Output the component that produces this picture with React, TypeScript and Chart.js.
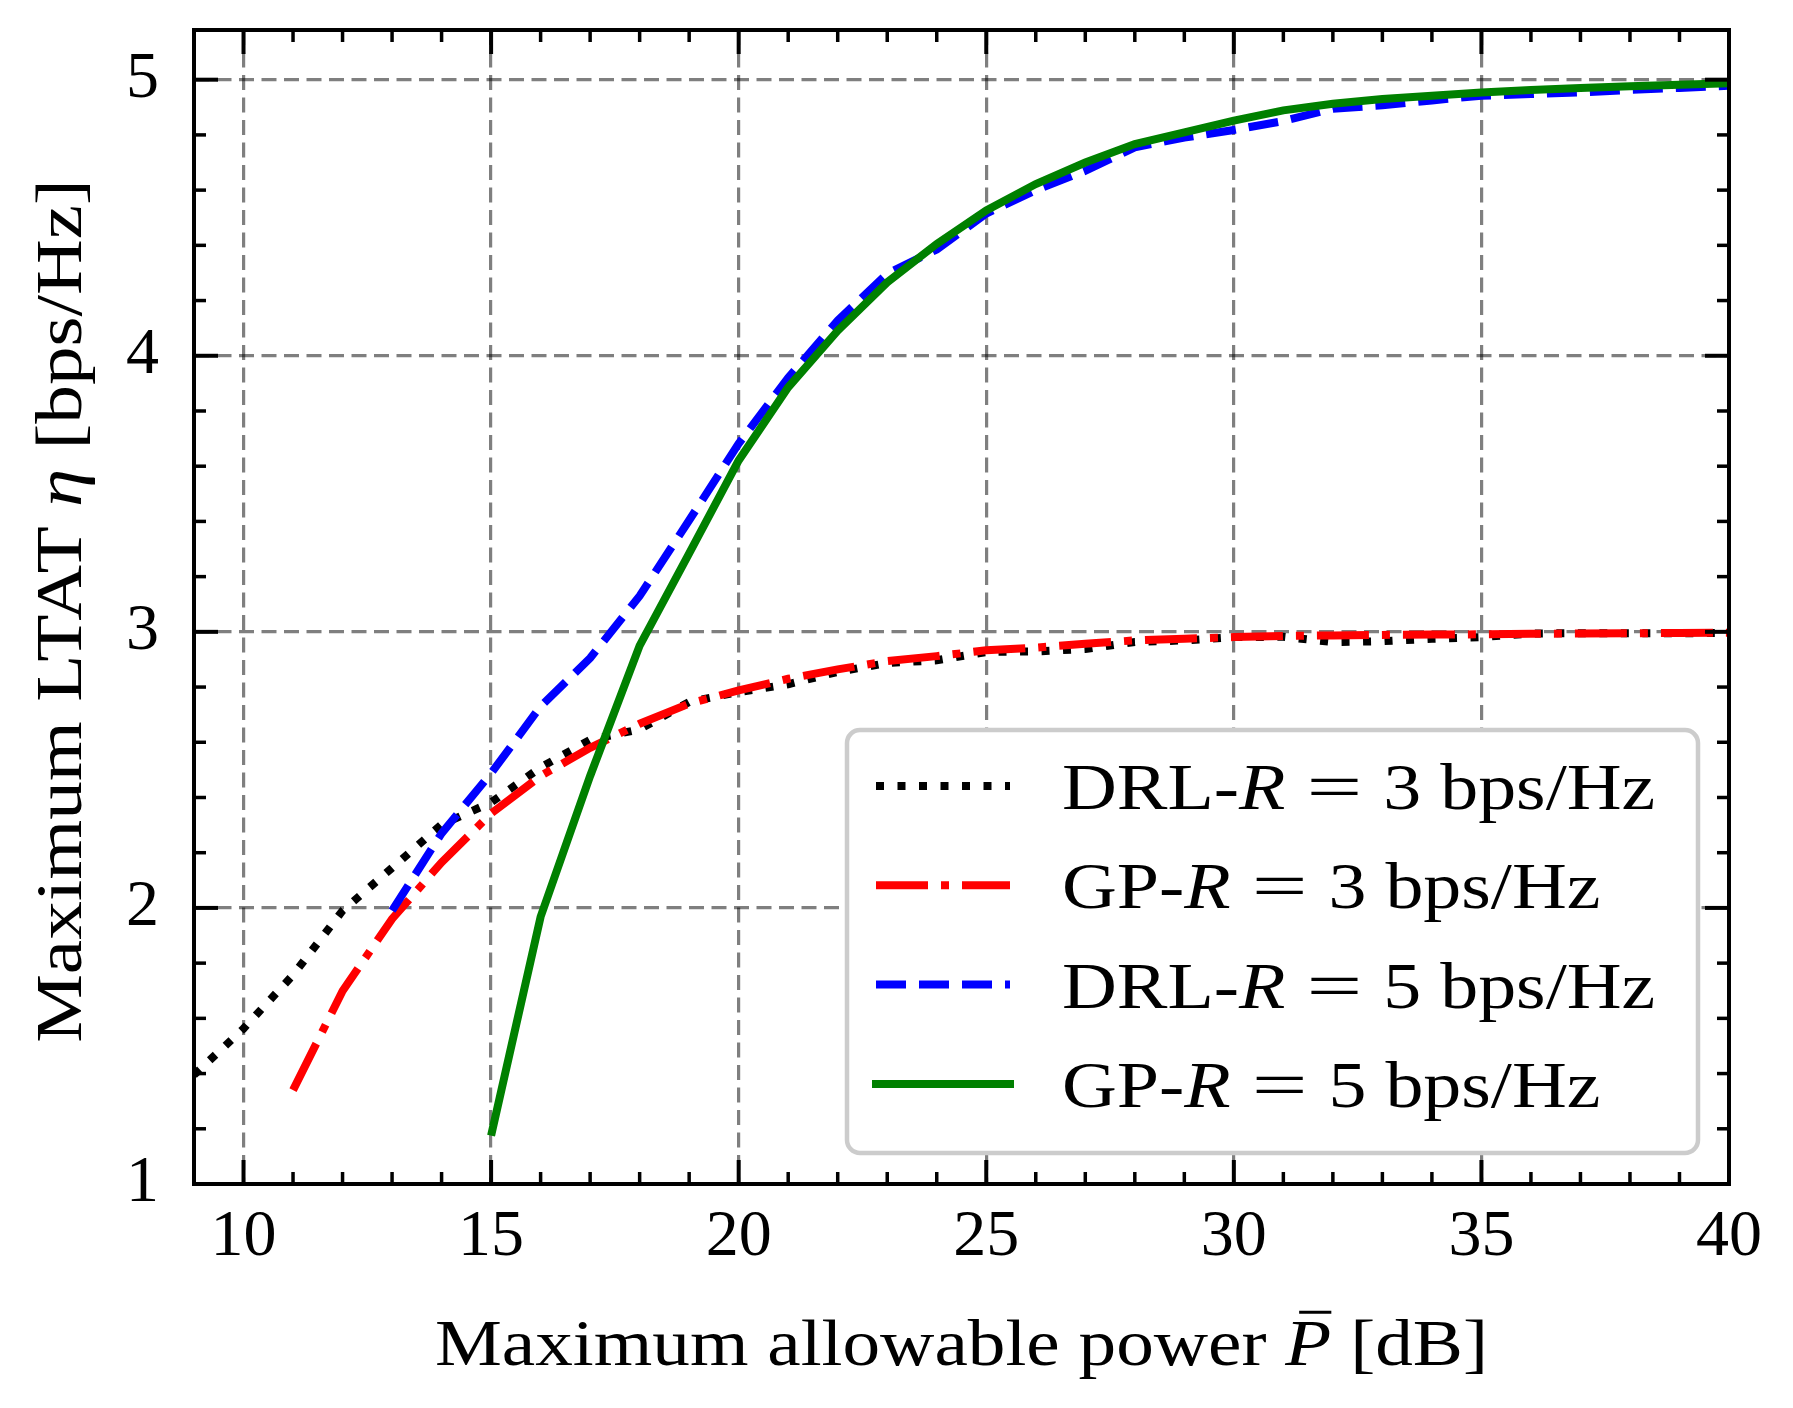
import React, { useEffect, useRef } from 'react';
import { Chart, registerables } from 'chart.js';

Chart.register(...registerables);

// ---------- data ----------
const DRL3_X = [9, 10, 11, 12, 13, 14, 15, 16, 17, 18, 19, 20, 21, 22, 23, 24, 25, 26, 27, 28, 29, 30, 31, 32, 33, 34, 35, 36, 37, 38, 39, 40];
const DRL3_Y = [1.395, 1.563, 1.757, 1.99, 2.145, 2.302, 2.382, 2.509, 2.609, 2.647, 2.746, 2.782, 2.81, 2.855, 2.887, 2.897, 2.927, 2.929, 2.938, 2.963, 2.969, 2.981, 2.982, 2.963, 2.966, 2.975, 2.981, 2.994, 2.995, 2.995, 2.995, 2.996];

const GP3_X = [11, 12, 13, 14, 15, 16, 17, 18, 19, 20, 21, 22, 23, 24, 25, 26, 27, 28, 29, 30, 31, 32, 33, 34, 35, 36, 37, 38, 39, 40];
const GP3_Y = [1.34, 1.699, 1.96, 2.165, 2.342, 2.478, 2.58, 2.667, 2.74, 2.788, 2.83, 2.864, 2.894, 2.912, 2.933, 2.943, 2.957, 2.969, 2.975, 2.981, 2.985, 2.987, 2.989, 2.99, 2.991, 2.993, 2.994, 2.995, 2.996, 2.997];

const DRL5_X = [13, 14, 15, 16, 17, 18, 19, 20, 21, 22, 23, 24, 25, 26, 27, 28, 29, 30, 31, 32, 33, 34, 35, 36, 37, 38, 39, 40];
const DRL5_Y = [1.99, 2.27, 2.488, 2.73, 2.905, 3.13, 3.404, 3.682, 3.92, 4.128, 4.297, 4.385, 4.515, 4.6, 4.67, 4.755, 4.79, 4.818, 4.85, 4.895, 4.907, 4.925, 4.942, 4.948, 4.954, 4.963, 4.97, 4.978];

const GP5_X = [15, 16, 17, 18, 19, 20, 21, 22, 23, 24, 25, 26, 27, 28, 29, 30, 31, 32, 33, 34, 35, 36, 37, 38, 39, 40];
const GP5_Y = [1.175, 1.968, 2.478, 2.95, 3.284, 3.621, 3.886, 4.091, 4.266, 4.405, 4.526, 4.622, 4.7, 4.767, 4.809, 4.852, 4.889, 4.913, 4.93, 4.942, 4.954, 4.963, 4.97, 4.976, 4.982, 4.987];

const X_TICKS = [10, 15, 20, 25, 30, 35, 40];
const Y_TICKS = [1, 2, 3, 4, 5];
const X_MINOR_STEP = 1;
const Y_MINOR_STEP = 0.2;
const X_MIN = 9;
const X_MAX = 40;
const Y_MIN = 1;
const Y_MAX = 5.18;

const LEGEND_PREFIX = ['DRL-', 'GP-', 'DRL-', 'GP-'];
const LEGEND_RATE = ['3', '3', '5', '5'];

const X_TITLE = [
  { t: 'Maximum allowable power ' },
  { t: 'P', it: true, bar: true },
  { t: ' [dB]' },
];
const Y_TITLE = [
  { t: 'Maximum LTAT ' },
  { t: '\u03B7', it: true },
  { t: ' [bps/Hz]' },
];

// ---------- style ----------
const W = 1793;
const H = 1408;
const FONT = "'Liberation Serif', 'Times New Roman', serif";
const FS = 66;
const AREA = { left: 194, right: 1729, top: 30, bottom: 1184 };

type Seg = { t?: string; it?: boolean; bar?: boolean; gap?: number; sx?: number };

function segWidth(ctx: CanvasRenderingContext2D, s: Seg, size: number, sx: number) {
  if (s.gap) return s.gap;
  ctx.font = `${s.it ? 'italic ' : ''}${size}px ${FONT}`;
  return ctx.measureText(s.t || '').width * (s.sx || sx);
}

function drawRich(ctx: CanvasRenderingContext2D, segs: Seg[], x: number, y: number, size: number, align: 'left' | 'center', sx: number) {
  let total = 0;
  for (const s of segs) total += segWidth(ctx, s, size, sx);
  let cx = align === 'center' ? x - total / 2 : x;
  ctx.textAlign = 'left';
  ctx.textBaseline = 'alphabetic';
  ctx.fillStyle = '#000';
  for (const s of segs) {
    const w = segWidth(ctx, s, size, sx);
    if (!s.gap) {
      ctx.font = `${s.it ? 'italic ' : ''}${size}px ${FONT}`;
      ctx.save();
      ctx.translate(cx, y);
      ctx.scale(s.sx || sx, 1);
      ctx.fillText(s.t || '', 0, 0);
      ctx.restore();
      if (s.bar) {
        ctx.save();
        ctx.strokeStyle = '#000';
        ctx.lineWidth = 3;
        ctx.beginPath();
        ctx.moveTo(cx + w * 0.3, y - size * 0.8);
        ctx.lineTo(cx + w * 1.0, y - size * 0.8);
        ctx.stroke();
        ctx.restore();
      }
    }
    cx += w;
  }
}

const decorPlugin = {
  id: 'decor',
  afterDatasetsDraw(chart: any) {
    const ctx: CanvasRenderingContext2D = chart.ctx;
    const { left, right, top, bottom } = chart.chartArea;
    const xs = chart.scales.x;
    const ys = chart.scales.y;
    ctx.save();
    // spines
    ctx.strokeStyle = '#000';
    ctx.lineWidth = 4;
    ctx.setLineDash([]);
    ctx.strokeRect(left, top, right - left, bottom - top);
    // ticks (inward on all four sides)
    const tick = (x1: number, y1: number, x2: number, y2: number, w: number) => {
      ctx.lineWidth = w;
      ctx.beginPath();
      ctx.moveTo(x1, y1);
      ctx.lineTo(x2, y2);
      ctx.stroke();
    };
    for (let v = X_MIN; v <= X_MAX + 1e-9; v += X_MINOR_STEP) {
      const major = X_TICKS.some((t) => Math.abs(t - v) < 1e-9);
      const len = major ? 24 : 12;
      const px = xs.getPixelForValue(v);
      tick(px, bottom, px, bottom - len, major ? 4 : 3.5);
      tick(px, top, px, top + len, major ? 4 : 3.5);
    }
    for (let k = 0; Y_MIN + k * Y_MINOR_STEP <= Y_MAX + 1e-9; k++) {
      const v = Y_MIN + k * Y_MINOR_STEP;
      const major = Y_TICKS.some((t) => Math.abs(t - v) < 1e-9);
      const len = major ? 24 : 12;
      const py = ys.getPixelForValue(v);
      tick(left, py, left + len, py, major ? 4 : 3.5);
      tick(right, py, right - len, py, major ? 4 : 3.5);
    }

    // legend
    const bx = 847, by = 730, bw = 1698 - 847, bh = 1153 - 730;
    ctx.beginPath();
    (ctx as any).roundRect(bx, by, bw, bh, 13);
    ctx.fillStyle = '#ffffff';
    ctx.fill();
    ctx.strokeStyle = '#cccccc';
    ctx.lineWidth = 4.5;
    ctx.stroke();

    const dsList = chart.data.datasets;
    for (let i = 0; i < 4; i++) {
      const ds = dsList[i];
      const ry = 786 + i * 99.3;
      ctx.save();
      ctx.strokeStyle = ds.borderColor;
      ctx.lineWidth = ds.borderWidth;
      const dash = ds.borderDash || [];
      ctx.setLineDash(dash);
      ctx.lineCap = dash.length ? 'butt' : 'square';
      ctx.beginPath();
      ctx.moveTo(876, ry);
      ctx.lineTo(1010, ry);
      ctx.stroke();
      ctx.restore();
      drawRich(
        ctx,
        [
          { t: LEGEND_PREFIX[i] },
          { t: 'R', it: true },
          { gap: 21 },
          { t: '=', sx: 1.5 },
          { gap: 21 },
          { t: LEGEND_RATE[i] + ' bps/Hz' },
        ],
        1062,
        ry + 23,
        FS,
        'left',
        1.15
      );
    }
    ctx.restore();
  },
  afterDraw(chart: any) {
    const ctx: CanvasRenderingContext2D = chart.ctx;
    const { left, right, top, bottom } = chart.chartArea;
    ctx.save();
    drawRich(ctx, X_TITLE, (left + right) / 2, 1365, FS, 'center', 1.14);
    ctx.translate(81, (top + bottom) / 2 + 4);
    ctx.rotate(-Math.PI / 2);
    drawRich(ctx, Y_TITLE, 0, 0, FS, 'center', 1.17);
    ctx.restore();
  },
};

function pts(xs: number[], ys: number[]) {
  return xs.map((x, i) => ({ x, y: ys[i] }));
}

export default function App() {
  const ref = useRef<HTMLCanvasElement | null>(null);
  useEffect(() => {
    if (!ref.current) return;
    document.body.style.margin = '0';
    const gridColor = 'rgba(0,0,0,0.5)';
    const chart = new Chart(ref.current, {
      type: 'line',
      data: {
        datasets: [
          {
            label: 'DRL-R = 3 bps/Hz',
            data: pts(DRL3_X, DRL3_Y),
            borderColor: '#000000',
            borderWidth: 8,
            borderDash: [8, 13.5],
            pointRadius: 0,
            fill: false,
            tension: 0,
            order: 4,
          },
          {
            label: 'GP-R = 3 bps/Hz',
            data: pts(GP3_X, GP3_Y),
            borderColor: '#ff0000',
            borderWidth: 8,
            borderDash: [52, 13, 8, 13],
            pointRadius: 0,
            fill: false,
            tension: 0,
            order: 3,
          },
          {
            label: 'DRL-R = 5 bps/Hz',
            data: pts(DRL5_X, DRL5_Y),
            borderColor: '#0000ff',
            borderWidth: 8,
            borderDash: [30, 13],
            pointRadius: 0,
            fill: false,
            tension: 0,
            order: 2,
          },
          {
            label: 'GP-R = 5 bps/Hz',
            data: pts(GP5_X, GP5_Y),
            borderColor: '#008000',
            borderWidth: 8,
            pointRadius: 0,
            fill: false,
            tension: 0,
            order: 1,
          },
        ],
      } as any,
      options: {
        responsive: false,
        animation: false,
        devicePixelRatio: 1,
        events: [],
        layout: { padding: { top: AREA.top, right: W - AREA.right, left: 0, bottom: 0 } },
        plugins: { legend: { display: false }, tooltip: { enabled: false }, title: { display: false } },
        scales: {
          x: {
            type: 'linear',
            min: X_MIN,
            max: X_MAX,
            afterBuildTicks: (s: any) => {
              s.ticks = X_TICKS.map((v) => ({ value: v }));
            },
            afterFit: (s: any) => {
              s.height = H - AREA.bottom;
              s.paddingLeft = 0;
              s.paddingRight = 0;
              s.paddingTop = 0;
              s.paddingBottom = 0;
            },
            grid: { color: gridColor, lineWidth: 3.2, drawTicks: false },
            border: { display: false, dash: [15, 7.5] },
            ticks: {
              color: '#000',
              font: { family: FONT, size: FS },
              padding: 14,
              maxRotation: 0,
              autoSkip: false,
            },
          },
          y: {
            type: 'linear',
            min: Y_MIN,
            max: Y_MAX,
            afterBuildTicks: (s: any) => {
              s.ticks = Y_TICKS.map((v) => ({ value: v }));
            },
            afterFit: (s: any) => {
              s.width = AREA.left;
              s.paddingLeft = 0;
              s.paddingRight = 0;
              s.paddingTop = 0;
              s.paddingBottom = 0;
            },
            grid: { color: gridColor, lineWidth: 3.2, drawTicks: false },
            border: { display: false, dash: [15, 7.5] },
            ticks: {
              color: '#000',
              font: { family: FONT, size: FS },
              padding: 35,
              autoSkip: false,
            },
          },
        },
      } as any,
      plugins: [decorPlugin],
    });
    return () => chart.destroy();
  }, []);
  return (
    <div style={{ position: 'absolute', left: 0, top: 0, width: W, height: H, background: '#fff' }}>
      <canvas ref={ref} width={W} height={H} style={{ display: 'block', width: W, height: H }} />
    </div>
  );
}
